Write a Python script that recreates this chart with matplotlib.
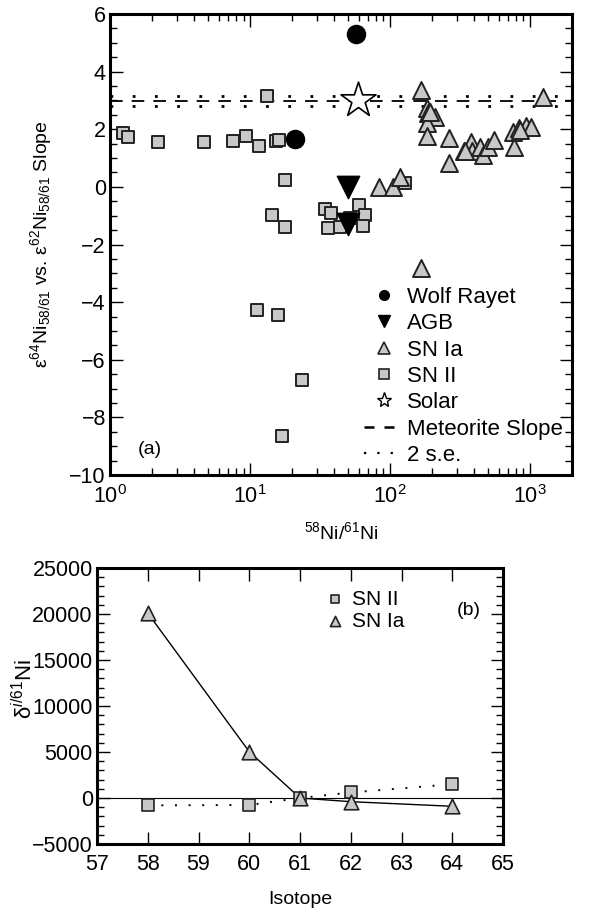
import matplotlib
import matplotlib.pyplot as plt
from matplotlib.ticker import MultipleLocator, LogLocator, NullFormatter
from matplotlib.lines import Line2D
import numpy as np

matplotlib.use('Agg')
plt.rcParams['font.family'] = ['Liberation Sans', 'DejaVu Sans']
plt.rcParams['mathtext.fontset'] = 'custom'
plt.rcParams['mathtext.rm'] = 'Liberation Sans'
plt.rcParams['mathtext.it'] = 'Liberation Sans:italic'
plt.rcParams['axes.unicode_minus'] = True

# ---- panel (a) data: 58Ni/61Ni ratio vs slope ----
sn2_x = [1.24, 1.35, 2.19, 4.72, 7.6, 9.36, 11.7, 15.3, 16.2, 13.2, 17.8,
         14.3, 17.8, 34.3, 37.7, 36.3, 44.0, 51.8, 60.4, 66.3, 64.5, 128,
         11.2, 15.8, 23.5, 17.0]
sn2_y = [1.88, 1.74, 1.57, 1.57, 1.60, 1.77, 1.42, 1.61, 1.63, 3.16, 0.24,
         -0.97, -1.38, -0.77, -0.89, -1.41, -1.40, -1.09, -0.63, -0.97, -1.35, 0.15,
         -4.28, -4.45, -6.70, -8.65]

sn1a_x = [168, 183, 188, 209, 183, 183, 265, 265, 339, 383, 389, 439, 464, 502,
          556, 773, 760, 839, 946, 1024, 1245, 83, 104.5, 118, 168, 343, 850, 195]
sn1a_y = [3.37, 2.73, 2.56, 2.44, 2.23, 1.77, 1.69, 0.82, 1.23, 1.57, 1.23, 1.40,
          1.11, 1.40, 1.63, 1.40, 1.92, 2.04, 2.12, 2.09, 3.11, -0.01, -0.01, 0.36,
          -2.82, 1.23, 1.98, 2.60]

wr_x = [20.9, 57.2]
wr_y = [1.65, 5.31]

agb_x = [49.9, 50.3]
agb_y = [0.01, -1.30]

solar_x = [59.4]
solar_y = [3.02]

slope = 2.98
slope_se = 0.17

# ---- panel (b) data ----
isotopes = [58, 60, 61, 62, 64]
sn2_delta = [-800, -760, 0, 600, 1500]
sn1a_delta = [20100, 5030, 0, -400, -900]

gray = '#c8c8c8'

fig = plt.figure(figsize=(5.93, 9.16), dpi=100)
ax1 = fig.add_axes([0.1855, 0.4814, 0.779, 0.5033])
ax2 = fig.add_axes([0.1636, 0.0786, 0.6847, 0.3013])

# panel (a)
ax1.axhline(slope, color='k', lw=1.3, ls=(0, (7, 5)), zorder=1)
ax1.axhline(slope + slope_se, color='k', lw=2.0, ls=(0, (1, 7)), zorder=1)
ax1.axhline(slope - slope_se, color='k', lw=2.0, ls=(0, (1, 7)), zorder=1)

ax1.scatter(sn2_x, sn2_y, marker='s', s=85, facecolor=gray, edgecolor='#222222', lw=1.4, zorder=3)
ax1.scatter(sn1a_x, sn1a_y, marker='^', s=150, facecolor=gray, edgecolor='#222222', lw=1.4, zorder=3)
ax1.scatter(wr_x, wr_y, marker='o', s=170, facecolor='k', edgecolor='k', zorder=4)
ax1.scatter(agb_x, agb_y, marker='v', s=260, facecolor='k', edgecolor='k', zorder=4)
ax1.scatter(solar_x, solar_y, marker='*', s=700, facecolor='white', edgecolor='k', lw=1.2, zorder=4)

ax1.set_xscale('log')
ax1.set_xlim(1, 2000)
ax1.set_ylim(-10, 6)
ax1.yaxis.set_major_locator(MultipleLocator(2))
ax1.yaxis.set_minor_locator(MultipleLocator(0.5))
ax1.xaxis.set_major_locator(LogLocator(base=10, numticks=10))
ax1.xaxis.set_minor_locator(LogLocator(base=10, subs=np.arange(2, 10), numticks=20))
ax1.xaxis.set_minor_formatter(NullFormatter())
ax1.set_xlabel('$^{58}$Ni/$^{61}$Ni', fontsize=14, labelpad=10)
ax1.set_ylabel('ε$^{64}$Ni$_{58/61}$ vs. ε$^{62}$Ni$_{58/61}$ Slope', fontsize=14, labelpad=11)
ax1.text(1.58, -9.13, '(a)', fontsize=14, va='center')

handles1 = [
    Line2D([], [], ls='none', marker='o', ms=7, mfc='k', mec='k'),
    Line2D([], [], ls='none', marker='v', ms=9, mfc='k', mec='k'),
    Line2D([], [], ls='none', marker='^', ms=8, mfc=gray, mec='#222222', mew=1.2),
    Line2D([], [], ls='none', marker='s', ms=7, mfc=gray, mec='#222222', mew=1.2),
    Line2D([], [], ls='none', marker='*', ms=11, mfc='white', mec='k', mew=1.0),
    Line2D([], [], color='k', lw=1.8, ls=(0, (4, 4))),
    Line2D([], [], color='k', lw=1.6, ls=(0, (1, 5))),
]
labels1 = ['Wolf Rayet', 'AGB', 'SN Ia', 'SN II', 'Solar', 'Meteorite Slope', '2 s.e.']
ax1.legend(handles1, labels1, loc='lower right', bbox_to_anchor=(1.015, -0.014), frameon=False,
           fontsize=16, handlelength=1.8, handletextpad=0.15, labelspacing=0.24, borderpad=0.2)

# panel (b)
ax2.axhline(0, color='k', lw=0.8, zorder=1)
ax2.plot(isotopes, sn2_delta, color='k', lw=1.4, ls=(0, (1, 6)), zorder=2)
ax2.plot(isotopes, sn1a_delta, color='k', lw=1.0, zorder=2)
ax2.scatter(isotopes, sn2_delta, marker='s', s=75, facecolor=gray, edgecolor='#222222', lw=1.2, zorder=3,
            label='SN II')
ax2.scatter(isotopes, sn1a_delta, marker='^', s=110, facecolor=gray, edgecolor='#222222', lw=1.2, zorder=3,
            label='SN Ia')
ax2.set_xlim(57, 65)
ax2.set_ylim(-5000, 25000)
ax2.xaxis.set_major_locator(MultipleLocator(1))
ax2.yaxis.set_major_locator(MultipleLocator(5000))
ax2.yaxis.set_minor_locator(MultipleLocator(1000))
ax2.set_xlabel('Isotope', fontsize=14, labelpad=12)
ax2.set_ylabel('δ$^{i/61}$Ni', fontsize=16)
ax2.yaxis.set_label_coords(-0.148, 0.56)
ax2.text(64.08, 20400, '(b)', fontsize=14, va='center')
ax2.legend(loc='upper left', bbox_to_anchor=(0.52, 0.99), frameon=False, fontsize=15,
           handlelength=0.8, handletextpad=0.4, labelspacing=0.15, scatterpoints=1,
           markerscale=0.7)

for ax in (ax1, ax2):
    for sp in ax.spines.values():
        sp.set_linewidth(2.2)
    ax.tick_params(which='both', direction='in', top=True, right=True, labelsize=15.5, pad=3)
    ax.tick_params(which='major', length=9, width=1.0)
    ax.tick_params(which='minor', length=5, width=1.0)
    ax.tick_params(axis='x', pad=7)

fig.savefig('out.png', dpi=100)
